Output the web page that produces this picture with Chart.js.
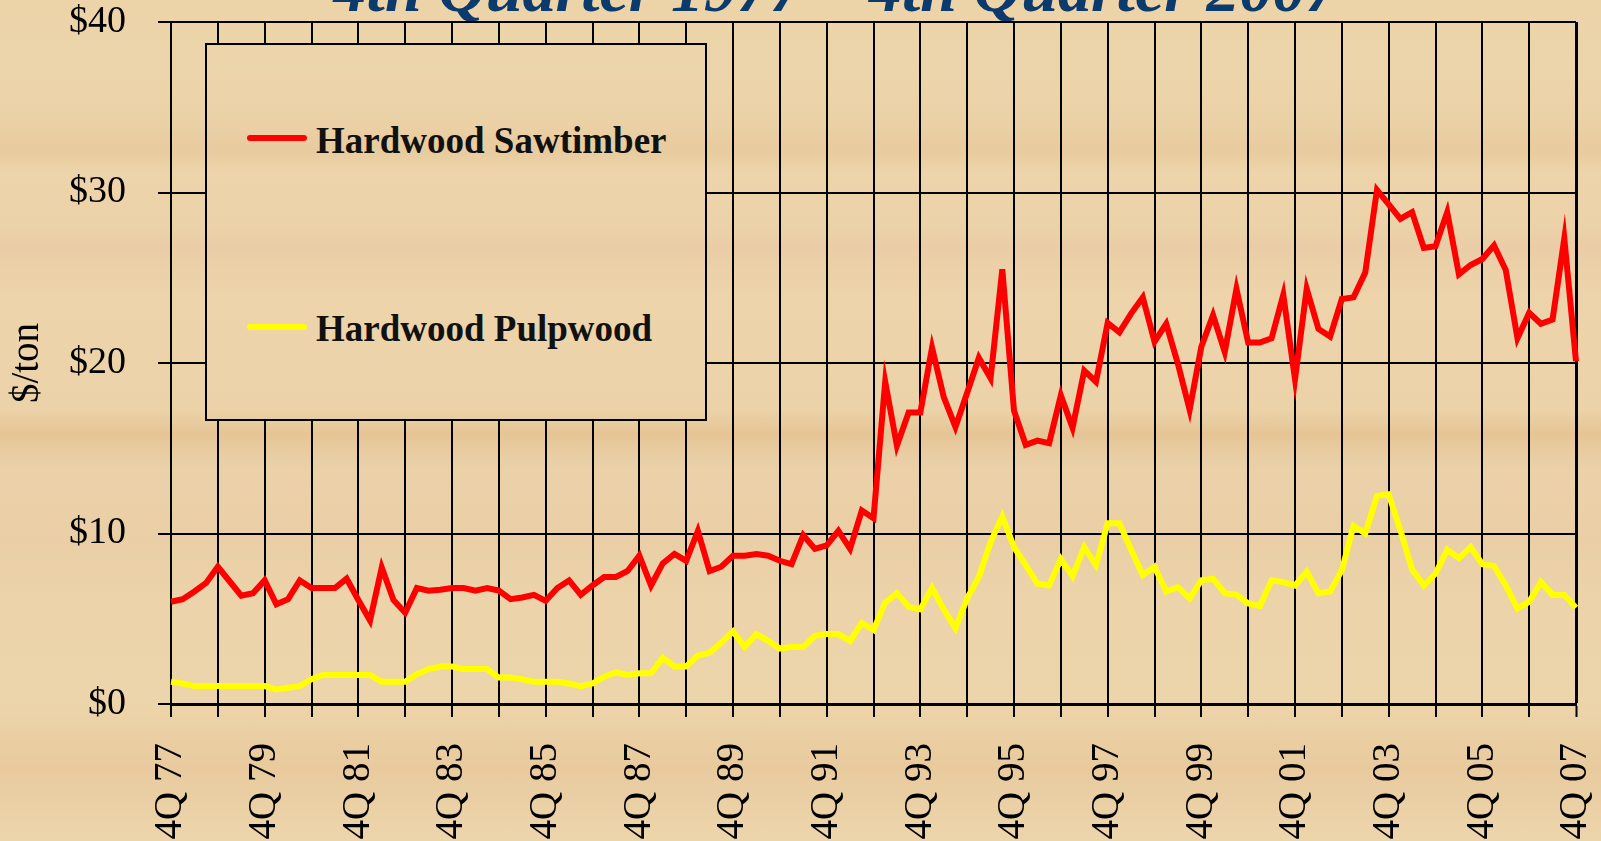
<!DOCTYPE html>
<html>
<head>
<meta charset="utf-8">
<script src="https://cdn.jsdelivr.net/npm/chart.js@4.4.1/dist/chart.umd.min.js"></script>
<style>
  html, body { margin:0; padding:0; width:1601px; height:841px; overflow:hidden; }
  .wood {
    background: linear-gradient(to bottom,
      #ECD3A8 0px, #EDD5AB 70px, #EBD0A5 128px, #E8CB9E 150px, #EDD4AA 172px,
      #ECD2A9 225px, #EACDA6 245px, #EDD4AB 300px, #ECD2A8 410px, #E5C595 434px,
      #E8CA9F 447px, #EBD1A9 470px, #EACFA6 540px, #ECD3A9 600px, #EDD5AB 700px,
      #E8CA9D 768px, #EACEA3 790px, #EDD5AB 841px);
    background-attachment: fixed;
  }
  #wrap { position:absolute; left:0; top:0; width:1601px; height:841px; }
  #title { position:absolute; left:836px; top:-44px; transform:translateX(-50%);
    font-family:"Liberation Serif", serif; font-style:italic; font-weight:bold;
    font-size:66px; line-height:66px; color:#0B3A6C; white-space:nowrap; }
  #legendBox { position:absolute; left:205px; top:43px; width:498px; height:374px;
    border:2px solid #000; }
  .sw { position:absolute; left:247px; width:60px; height:6px; border-radius:3px; }
  .lt { position:absolute; left:316px; font-family:"Liberation Serif", serif; font-weight:bold;
    font-size:37px; line-height:37px; color:#111; white-space:nowrap; }
</style>
</head>
<body class="wood">
<div id="title">4th Quarter 1977 – 4th Quarter 2007</div>
<div id="wrap"><canvas id="c" width="1601" height="841"></canvas></div>
<div id="legendBox" class="wood"></div>
<div class="sw" style="top:135px;background:#FF0000"></div>
<div class="lt" style="top:122px">Hardwood Sawtimber</div>
<div class="sw" style="top:324px;background:#FFFF00"></div>
<div class="lt" style="top:310px">Hardwood Pulpwood</div>
<script>
const seriesNames = ['Hardwood Sawtimber', 'Hardwood Pulpwood'];
const tickLabels = ['4Q 77','4Q 79','4Q 81','4Q 83','4Q 85','4Q 87','4Q 89','4Q 91',
  '4Q 93','4Q 95','4Q 97','4Q 99','4Q 01','4Q 03','4Q 05','4Q 07'];
const yTicks = [0, 10, 20, 30, 40];

const sawtimber = [
  6.0, 6.15, 6.6, 7.1, 8.05, 7.2, 6.35, 6.5, 7.25, 5.85, 6.15, 7.25, 6.8, 6.8, 6.8, 7.35,
  6.1, 4.9, 8.0, 6.1, 5.35, 6.8, 6.65, 6.7, 6.8, 6.8, 6.65, 6.8, 6.65, 6.15, 6.25, 6.4,
  6.05, 6.8, 7.25, 6.4, 6.95, 7.45, 7.45, 7.8, 8.7, 6.95, 8.25, 8.8, 8.4, 10.15, 7.8, 8.05,
  8.7, 8.7, 8.8, 8.7, 8.4, 8.2, 9.9, 9.1, 9.3, 10.15, 9.1, 11.35, 10.9, 18.9, 15.15, 17.1,
  17.1, 20.9, 18.0, 16.25, 18.25, 20.3, 19.1, 25.5, 17.2, 15.2, 15.45, 15.3, 18.1, 16.2, 19.55, 18.9,
  22.35, 21.8, 22.9, 23.85, 21.25, 22.3, 19.95, 17.25, 20.95, 22.8, 20.65, 24.35, 21.2, 21.2, 21.45, 24.0,
  19.05, 24.35, 22.0, 21.55, 23.75, 23.85, 25.3, 30.15, 29.3, 28.45, 28.85, 26.75, 26.85, 28.85, 25.2, 25.75,
  26.1, 26.9, 25.45, 21.45, 22.95, 22.3, 22.55, 27.3, 20.1
];
const pulpwood = [
  1.3, 1.2, 1.05, 1.05, 1.05, 1.05, 1.05, 1.05, 1.05, 0.85, 0.95, 1.05, 1.45, 1.7, 1.7, 1.7,
  1.7, 1.7, 1.3, 1.3, 1.3, 1.75, 2.05, 2.2, 2.2, 2.05, 2.05, 2.05, 1.55, 1.55, 1.45, 1.3,
  1.3, 1.3, 1.2, 1.05, 1.2, 1.6, 1.85, 1.7, 1.8, 1.8, 2.7, 2.2, 2.2, 2.85, 3.0, 3.6,
  4.25, 3.35, 4.1, 3.7, 3.25, 3.35, 3.35, 4.0, 4.1, 4.1, 3.7, 4.75, 4.35, 5.95, 6.5, 5.7,
  5.55, 6.8, 5.55, 4.45, 6.2, 7.45, 9.5, 11.0, 9.2, 8.15, 7.05, 6.95, 8.5, 7.5, 9.2, 8.15,
  10.6, 10.6, 9.05, 7.55, 8.05, 6.6, 6.85, 6.2, 7.25, 7.35, 6.5, 6.4, 5.9, 5.75, 7.25, 7.15,
  6.95, 7.75, 6.5, 6.6, 7.85, 10.45, 10.0, 12.2, 12.3, 10.2, 7.9, 6.95, 7.65, 9.05, 8.55, 9.2,
  8.2, 8.1, 6.95, 5.6, 6.0, 7.15, 6.4, 6.4, 5.65
];

// quarterly category names 4Q 77 ... 4Q 07
const categories = [];
for (let i = 0; i < sawtimber.length; i++) {
  const q = ((3 + i) % 4) + 1;
  const yr = (77 + Math.floor((3 + i) / 4)) % 100;
  categories.push(q + 'Q ' + String(yr).padStart(2, '0'));
}

const serif = '"Liberation Serif", "Times New Roman", serif';

new Chart(document.getElementById('c'), {
  type: 'line',
  data: {
    labels: categories,
    datasets: [
      { label: seriesNames[0], data: sawtimber, borderColor: '#FF0000', borderWidth: 6,
        pointRadius: 0, tension: 0, fill: false, borderJoinStyle: 'miter' },
      { label: seriesNames[1], data: pulpwood, borderColor: '#FFFF00', borderWidth: 6,
        pointRadius: 0, tension: 0, fill: false, borderJoinStyle: 'miter' }
    ]
  },
  options: {
    responsive: false,
    animation: false,
    devicePixelRatio: 1,
    layout: { padding: { top: 22, right: 25, left: 0, bottom: 0 } },
    plugins: { legend: { display: false }, tooltip: { enabled: false } },
    scales: {
      x: {
        type: 'category',
        offset: false,
        afterFit: s => { s.height = 137; s.paddingLeft = 0; s.paddingRight = 0; },
        grid: {
          offset: false,
          color: c => (c.index % 4 === 0 ? '#000' : 'rgba(0,0,0,0)'),
          tickColor: c => (c.index % 4 === 0 ? '#000' : 'rgba(0,0,0,0)'),
          lineWidth: c => (c.index === 120 ? 3 : 2),
          tickWidth: 2,
          tickLength: 13,
          drawTicks: true
        },
        border: { display: true, color: '#000', width: 3 },
        ticks: {
          autoSkip: false,
          maxRotation: 90, minRotation: 90,
          padding: 26,
          color: '#000',
          font: { family: serif, size: 39 },
          callback: (v, i) => (i % 8 === 0 ? tickLabels[i / 8] : '')
        }
      },
      y: {
        min: 0, max: 40,
        afterFit: s => { s.width = 171; s.paddingTop = 0; s.paddingBottom = 0; },
        afterBuildTicks: s => { s.ticks = yTicks.map(v => ({ value: v })); },
        grid: { color: '#000', lineWidth: 2, tickLength: 13, tickWidth: 2, tickColor: '#000' },
        border: { display: true, color: '#000', width: 2 },
        ticks: {
          padding: 32,
          color: '#000',
          font: { family: serif, size: 38 },
          callback: v => '$' + v
        },
        title: {
          display: true, text: '$/ton', color: '#000',
          font: { family: serif, size: 39 },
          padding: { top: 4, bottom: 0 }
        }
      }
    }
  }
});
</script>
</body>
</html>
